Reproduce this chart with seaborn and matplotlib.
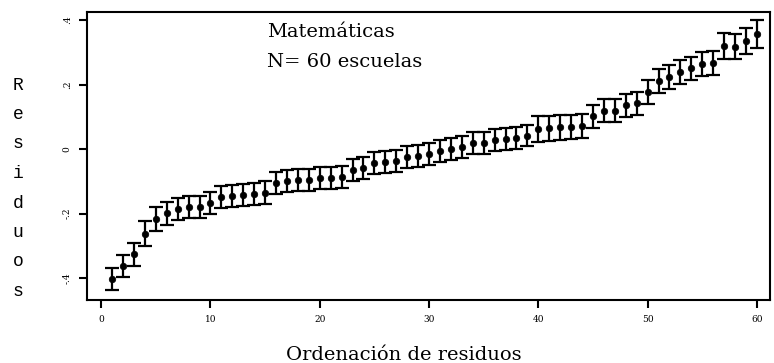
import numpy as np
import pandas as pd
import matplotlib
matplotlib.use("Agg")
import matplotlib.pyplot as plt
import seaborn as sns

rank = list(range(1, 61))
residuo = [-0.403, -0.363, -0.326, -0.262, -0.216, -0.199, -0.186, -0.181, -0.179, -0.167,
           -0.150, -0.146, -0.142, -0.140, -0.135, -0.104, -0.099, -0.095, -0.095, -0.091,
           -0.089, -0.086, -0.066, -0.060, -0.043, -0.040, -0.038, -0.024, -0.022, -0.014,
           -0.007, -0.001, 0.006, 0.018, 0.019, 0.028, 0.030, 0.033, 0.042, 0.063,
           0.064, 0.067, 0.068, 0.072, 0.102, 0.119, 0.119, 0.136, 0.142, 0.177,
           0.211, 0.223, 0.240, 0.250, 0.263, 0.268, 0.319, 0.318, 0.336, 0.356]
error = [0.034, 0.035, 0.036, 0.039, 0.037, 0.035, 0.034, 0.034, 0.034, 0.034,
         0.034, 0.034, 0.034, 0.034, 0.035, 0.034, 0.034, 0.034, 0.034, 0.034,
         0.034, 0.034, 0.034, 0.034, 0.034, 0.034, 0.034, 0.034, 0.034, 0.034,
         0.034, 0.034, 0.034, 0.034, 0.034, 0.034, 0.034, 0.034, 0.034, 0.040,
         0.038, 0.038, 0.038, 0.038, 0.036, 0.036, 0.036, 0.036, 0.036, 0.037,
         0.037, 0.037, 0.037, 0.037, 0.037, 0.037, 0.040, 0.040, 0.040, 0.043]
xticks = [0, 10, 20, 30, 40, 50, 60]
yticks = [-0.4, -0.2, 0.0, 0.2, 0.4]
ytick_labels = ["-.4", "-.2", "0", ".2", ".4"]

df = pd.DataFrame({"rank": rank, "residuo": residuo, "error": error})

sns.set_theme(style="white")
plt.rcParams["font.family"] = ["DejaVu Serif"]
plt.rcParams["text.color"] = "black"
plt.rcParams["xtick.color"] = "black"
plt.rcParams["ytick.color"] = "black"

W, H = 774, 363
fig = plt.figure(figsize=(W / 100, H / 100), dpi=100)
ax = fig.add_axes([87 / W, 1 - 300 / H, (770 - 87) / W, (300 - 12) / H])

ax.errorbar(df["rank"], df["residuo"], yerr=df["error"], fmt="none",
            ecolor="black", elinewidth=1.6, capsize=5, capthick=1.6, zorder=2)
sns.scatterplot(data=df, x="rank", y="residuo", ax=ax, color="black",
                s=22, edgecolor="black", linewidth=0.5, zorder=3, legend=False)

ax.set_xlim(-1.3, 61.2)
ax.set_ylim(-0.468, 0.425)
ax.set_xticks(xticks)
ax.set_xticklabels([str(t) for t in xticks], fontsize=6.5)
ax.set_yticks(yticks)
ax.set_yticklabels(ytick_labels, fontsize=6.5, rotation=90, va="center")
ax.tick_params(axis="both", direction="out", length=6, width=1.5, color="black",
               labelcolor="black", bottom=True, left=True, pad=5)
for sp in ax.spines.values():
    sp.set_linewidth(1.5)
    sp.set_color("black")

ax.set_xlabel("")
ax.set_ylabel("")
fig.text(404 / W, 1 - 360 / H, "Ordenación de residuos", fontsize=14,
         color="black", ha="center", va="baseline")

letters = "Residuos"
for i, ch in enumerate(letters):
    fig.text(18 / W, 1 - (85 + i * 29.5) / H, ch, fontsize=13, color="black",
             family="Liberation Mono", ha="center", va="center")

fig.text(267 / W, 1 - 37 / H, "Matemáticas", fontsize=14, color="black",
         ha="left", va="baseline")
fig.text(267 / W, 1 - 67 / H, "N= 60 escuelas", fontsize=14, color="black",
         ha="left", va="baseline")

fig.savefig("out.png", dpi=100)
